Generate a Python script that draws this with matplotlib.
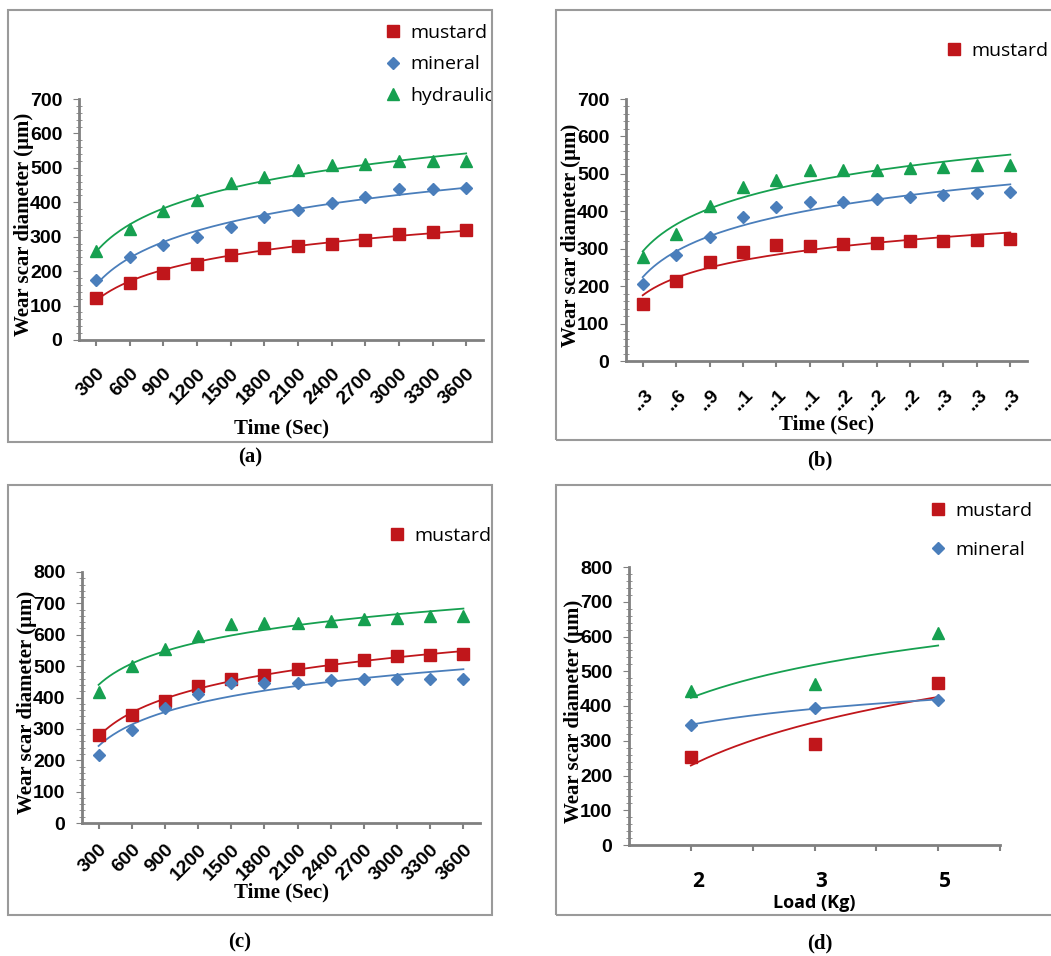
import numpy as np
import matplotlib.pyplot as plt
from matplotlib.patches import Rectangle
from matplotlib.ticker import MultipleLocator

W, H = 1051, 956

time_labels = ["300", "600", "900", "1200", "1500", "1800", "2100", "2400", "2700", "3000", "3300", "3600"]
time_short = ["..3", "..6", "..9", "..1", "..1", "..1", "..2", "..2", "..2", "..3", "..3", "..3"]
load_labels = ["2", "3", "5"]

# (a)
a_mustard = [123, 166, 194, 220, 247, 268, 274, 280, 291, 307, 313, 319]
a_mineral = [174, 242, 276, 300, 329, 356, 378, 399, 414, 438, 440, 442]
a_hydraulic = [258, 322, 376, 407, 456, 474, 494, 509, 510, 521, 521, 521]
# (b)
b_mustard = [152, 215, 264, 290, 310, 308, 313, 314, 321, 321, 323, 325]
b_mineral = [207, 283, 332, 384, 412, 424, 426, 432, 439, 443, 448, 452]
b_hydraulic = [277, 340, 414, 464, 484, 511, 509, 511, 515, 519, 525, 525]
# (c)
c_mustard = [279, 344, 390, 436, 459, 471, 490, 505, 519, 533, 535, 540]
c_mineral = [217, 297, 365, 411, 445, 445, 447, 455, 458, 458, 458, 458]
c_hydraulic = [416, 501, 554, 596, 633, 636, 636, 644, 649, 654, 660, 660]
# (d)
d_mustard = [252, 290, 466]
d_mineral = [345, 395, 417]
d_hydraulic = [444, 463, 609]

RED, BLUE, GREEN = "#C0161B", "#4A7EBB", "#16A050"
styles = [("mustard", RED, "s", 9), ("mineral", BLUE, "D", 6.5), ("hydraulic", GREEN, "^", 9)]

plt.rcParams["font.family"] = "DejaVu Sans"
fig = plt.figure(figsize=(W / 100, H / 100), dpi=100)


def fbox(x0, y0, x1, y1):
    return [x0 / W, 1 - y1 / H, (x1 - x0) / W, (y1 - y0) / H]


def frame(x0, y0, x1, y1):
    fig.patches.append(Rectangle((x0 / W, 1 - y1 / H), (x1 - x0) / W, (y1 - y0) / H,
                                 transform=fig.transFigure, fill=False,
                                 edgecolor="#9a9a9a", linewidth=1.5))


def style_axes(ax, ymax, width_px):
    for s in ["top", "right"]:
        ax.spines[s].set_visible(False)
    for s in ["left", "bottom"]:
        ax.spines[s].set_color("#808080")
        ax.spines[s].set_linewidth(2)
    ax.set_ylim(0, ymax)
    ax.yaxis.set_major_locator(MultipleLocator(100))
    ax.yaxis.set_minor_locator(MultipleLocator(20))
    ax.tick_params(axis="y", which="major", direction="out", length=4, color="#808080",
                   labelsize=14, pad=8)
    ax.tick_params(axis="y", which="minor", direction="inout", length=4, color="#808080")
    ax.tick_params(axis="x", which="major", direction="out", length=4, width=1.5, color="#808080")
    for t in ax.get_yticklabels():
        t.set_fontweight("bold")
        t.set_family("Liberation Sans")
    ax.set_ylabel("Wear scar diameter (µm)", family="Liberation Serif", fontweight="bold",
                  fontsize=15)
    ax.yaxis.set_label_coords(-45 / width_px, 0.48)


def log_fit(ax, idx, vals, pos, color):
    idx = np.asarray(idx, float)
    a, b = np.polyfit(np.log(idx), vals, 1)
    t = np.linspace(idx[0], idx[-1], 200)
    p = np.interp(t, idx, pos)
    ax.plot(p, a * np.log(t) + b, color=color, linewidth=1.3, zorder=2)


def draw_series(ax, pos, series, idx=None):
    handles = []
    if idx is None:
        idx = np.arange(1, len(pos) + 1)
    for vals, (name, color, mk, ms) in zip(series, styles):
        h, = ax.plot(pos, vals, linestyle="none", marker=mk, markersize=ms, color=color,
                     label=name, zorder=3)
        log_fit(ax, idx, vals, pos, color)
        handles.append(h)
    return handles


def legend(ax, handles, x, y, spacing=0.9):
    ax.legend(handles=handles, loc="upper left", bbox_to_anchor=(x / W, 1 - y / H),
              bbox_transform=fig.transFigure, frameon=False, prop={"family": "Open Sans", "size": 14},
              handlelength=0.8, handletextpad=0.5, labelspacing=spacing, borderpad=0)


def caption(text, x, y):
    fig.text(x / W, 1 - y / H, text, family="Liberation Serif", fontweight="bold",
             fontsize=15, ha="center", va="center")


cat = np.arange(1, 13)

# ---- (a)
frame(8, 10, 492, 442)
ax = fig.add_axes(fbox(79, 99, 483, 340))
h = draw_series(ax, cat, [a_mustard, a_mineral, a_hydraulic])
ax.set_xlim(0.5, 12.5)
ax.set_xticks(cat)
ax.set_xticklabels(time_labels, rotation=45, ha="right", rotation_mode="anchor",
                   fontsize=14, fontweight="bold", family="Liberation Sans")
ax.tick_params(axis="x", pad=14)
style_axes(ax, 700, 404)
ax.set_xlabel("Time (Sec)", family="Liberation Serif", fontweight="bold", fontsize=15, labelpad=8)
legend(ax, h, 375, 14, spacing=0.7)
caption("(a)", 250, 457)

# ---- (b)
frame(556, 10, 1060, 440)
ax = fig.add_axes(fbox(626, 99, 1027, 361))
h = draw_series(ax, cat, [b_mustard, b_mineral, b_hydraulic])
ax.set_xlim(0.5, 12.5)
ax.set_xticks(cat)
ax.set_xticklabels(time_short, rotation=45, ha="center", fontsize=14, fontweight="bold",
                   family="Liberation Sans")
ax.tick_params(axis="x", pad=14)
style_axes(ax, 700, 401)
ax.set_xlabel("Time (Sec)", family="Liberation Serif", fontweight="bold", fontsize=15, labelpad=1)
legend(ax, h[:1], 936, 32)
caption("(b)", 820, 460)

# ---- (c)
frame(8, 485, 492, 915)
ax = fig.add_axes(fbox(82, 572, 480, 823))
h = draw_series(ax, cat, [c_mustard, c_mineral, c_hydraulic])
ax.set_xlim(0.5, 12.5)
ax.set_xticks(cat)
ax.set_xticklabels(time_labels, rotation=45, ha="right", rotation_mode="anchor",
                   fontsize=14, fontweight="bold", family="Liberation Sans")
ax.tick_params(axis="x", pad=9)
style_axes(ax, 800, 398)
ax.set_xlabel("Time (Sec)", family="Liberation Serif", fontweight="bold", fontsize=15, labelpad=-1)
legend(ax, h[:1], 379, 517)
caption("(c)", 240, 942)

# ---- (d)
frame(556, 485, 1060, 915)
ax = fig.add_axes(fbox(629, 567, 1000, 845))
load_pos = np.array([1, 3, 5])
h = draw_series(ax, load_pos, [d_mustard, d_mineral, d_hydraulic], idx=[1, 2, 3])
ax.set_xlim(0, 6)
ax.set_xticks(np.arange(1, 7))
ax.set_xticklabels([])
style_axes(ax, 800, 371)
for p, lab in zip(load_pos, load_labels):
    ax.annotate(lab, (p, 0), xytext=(5, -26), textcoords="offset points", ha="center",
                va="center", fontsize=15, fontweight="bold", family="Open Sans")
ax.set_xlabel("Load (Kg)", family="Open Sans", fontweight="bold", fontsize=13, labelpad=28)
legend(ax, h[:2], 920, 492, spacing=1.1)
caption("(d)", 820, 943)

fig.savefig("out.png", dpi=100)
